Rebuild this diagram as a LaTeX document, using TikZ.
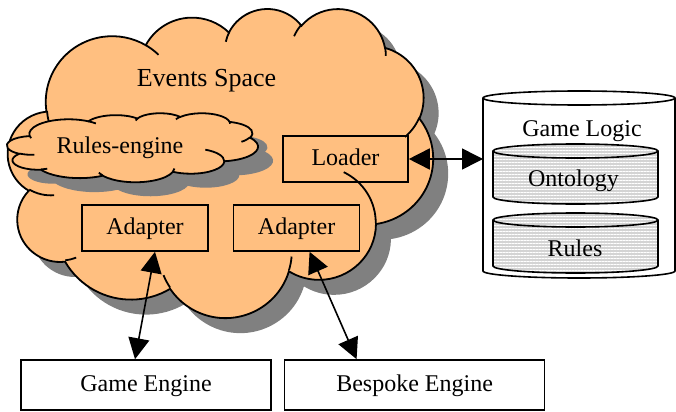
\documentclass[tikz,border=0pt]{standalone}
\usepackage{fontspec}
\setmainfont{Liberation Serif}
\usetikzlibrary{arrows.meta}
\usetikzlibrary{positioning}
\usetikzlibrary{patterns.meta}
\definecolor{cloudorange}{RGB}{255,191,128}
\definecolor{shadowgray}{RGB}{128,128,128}
\definecolor{stripegray}{RGB}{212,212,212}
\tikzstyle{block} = [rectangle, draw, line width=0.8pt, inner sep=0pt, text height=8.5pt, text depth=2.5pt]
\tikzstyle{txt} = [inner sep=0pt, text height=8.5pt, text depth=2.5pt]
\tikzstyle{store} = [rectangle, inner sep=0pt, outer sep=0pt]
\tikzstyle{link} = [{Triangle[length=10.5pt,width=10.5pt]}-{Triangle[length=10.5pt,width=10.5pt]}, line width=0.8pt]
\tikzstyle{stripes} = [preaction={fill=stripegray}, pattern={Lines[angle=0,distance=1.5pt,line width=0.5pt]}, pattern color=white]
% one lobe of a cloud: radii, start angle, sweep (visual angles, clockwise)
\tikzset{ooarc/.style n args={4}{insert path={arc[x radius=#1*\cldx, y radius=#2*\cldy,
  start angle={-(#3+atan2((#1-#2)*sin(#3)*cos(#3),#2*cos(#3)^2+#1*sin(#3)^2))},
  end angle={-((#3+#4)+atan2((#1-#2)*sin(#3+#4)*cos(#3+#4),#2*cos(#3+#4)^2+#1*sin(#3+#4)^2))}]}}}
\newcommand\cloudoutline{(39.00,143.70)
  [ooarc={67.53}{91.90}{-190.48748}{123.78053}]
  [ooarc={53.33}{72.67}{-144.10238}{89.94523}]
  [ooarc={43.65}{59.45}{-145.80792}{99.72302}]
  [ooarc={48.57}{65.95}{-130.98607}{117.24173}]
  [ooarc={53.33}{72.73}{-78.70888}{109.02692}]
  [ooarc={67.75}{92.20}{-46.26725}{130.269}]
  [ooarc={57.85}{78.67}{0.62502}{114.03333}]
  [ooarc={67.52}{92.15}{22.4516}{115.17255}]
  [ooarc={77.20}{105.43}{66.24263}{75.71102}]
  [ooarc={43.60}{59.18}{-274.94208}{146.73557}]
  [ooarc={43.45}{59.45}{-246.8285}{152.51822}] -- cycle}
\newcommand\cloudcreases{
  (46.93,261.77) [ooarc={43.45}{59.45}{86.742}{26.4295}]
  (69.28,348.99) [ooarc={43.60}{59.18}{73.61047}{11.44747}]
  (164.78,390.90) [ooarc={67.52}{92.15}{137.62415}{14.0811}]
  (288.27,347.51) [ooarc={67.52}{92.15}{6.45327}{15.99835}]
  (341.29,229.54) [ooarc={57.85}{78.67}{-70.29235}{70.91737}]
  (417.98,153.54) [ooarc={53.33}{72.73}{30.31803}{27.7515}]
  (383.24,54.26) [ooarc={48.57}{65.95}{-13.74433}{14.8589}]
  (290.78,39.52) [ooarc={48.57}{65.95}{-149.18145}{18.19537}]
  (221.41,47.20) [ooarc={43.65}{59.45}{-163.49427}{17.68635}]
  (140.00,51.92) [ooarc={67.53}{91.90}{-66.70695}{12.31935}]
  (41.27,157.89) [ooarc={67.53}{91.90}{162.0468}{11.85012}]}
% cylinder round a node: name, half width, fill
\newcommand\dbcyl[3]{
  \draw[line width=0.8pt, #3] ([yshift=-3.5pt]#1.north west) -- ([yshift=3.5pt]#1.south west)
    arc[start angle=180, end angle=360, x radius=#2, y radius=3.5pt] -- ([yshift=-3.5pt]#1.north east)
    arc[start angle=0, end angle=180, x radius=#2, y radius=3.5pt] -- cycle;
  \draw[line width=0.8pt] ([yshift=-3.5pt]#1.north west) arc[start angle=180, end angle=360, x radius=#2, y radius=3.5pt];
}

\begin{document}
\begin{tikzpicture}[x=0.5pt, y=-0.5pt, font=\fontsize{12}{14}\selectfont]
   \useasboundingbox (0,0) rectangle (676,412);
   % Events space cloud
   \begin{scope}[shift={(4pt,-4pt)}, x=0.4919pt, y=-0.35764pt]
      \def\cldx{0.4919pt}\def\cldy{0.35764pt}
      \fill[shadowgray, shift={(7.5pt,-7.5pt)}] \cloudoutline;
      \filldraw[fill=cloudorange, line width=0.9pt] \cloudoutline;
      \draw[line width=0.9pt] \cloudcreases;
   \end{scope}
   % Rules-engine cloud
   \begin{scope}[shift={(3.5pt,-56.5pt)}, x=0.29051pt, y=-0.079861pt]
      \def\cldx{0.29051pt}\def\cldy{0.079861pt}
      \fill[shadowgray, shift={(7.5pt,-7pt)}] \cloudoutline;
      \filldraw[fill=cloudorange, line width=0.9pt] \cloudoutline;
      \draw[line width=0.9pt] \cloudcreases;
   \end{scope}

   % Place nodes
   \node [txt, font=\fontsize{13}{15}\selectfont] (spacetext) at (206.5,80) {Events Space};
   \node [txt] (enginetext) at (120,147) {Rules-engine};
   \node [block, minimum width=62.5pt, minimum height=23pt] (loader) at (345.5,159) {Loader};
   \node [block, minimum width=63pt, minimum height=23pt] (adapter1) at (145,228) {Adapter};
   \node [block, minimum width=63pt, minimum height=23pt, right = 12pt of adapter1] (adapter2) {Adapter};
   \node [block, minimum width=125pt, minimum height=25pt] (game) at (146,385) {Game Engine};
   \node [block, minimum width=130pt, minimum height=25pt, right = 6pt of game] (bespoke) {Bespoke Engine};

   % Game logic store
   \node [store, minimum width=96pt, minimum height=93.5pt] (logic) at (579,184.5) {};
   \node [store, minimum width=82.5pt, minimum height=30pt] (ontology) at (575.5,174) {};
   \node [store, minimum width=82.5pt, minimum height=30pt, below = 4.5pt of ontology] (rules) {};
   \dbcyl{logic}{48pt}{fill=white}
   \dbcyl{ontology}{41.25pt}{stripes}
   \dbcyl{rules}{41.25pt}{stripes}
   \node [txt] (logictext) at (582,130) {Game Logic};
   \node [txt] (ontologytext) at (573.5,180) {Ontology};
   \node [txt] (rulestext) at (575,250) {Rules};

   \draw [link] (loader.east) -- (loader.east -| logic.west);
   \draw [link] ([xshift=5pt]adapter1.south) -- ([xshift=-5.5pt]game.north);
   \draw [link] ([xshift=6.5pt]adapter2.south) -- ([xshift=-29pt]bespoke.north);
\end{tikzpicture}
\end{document}
